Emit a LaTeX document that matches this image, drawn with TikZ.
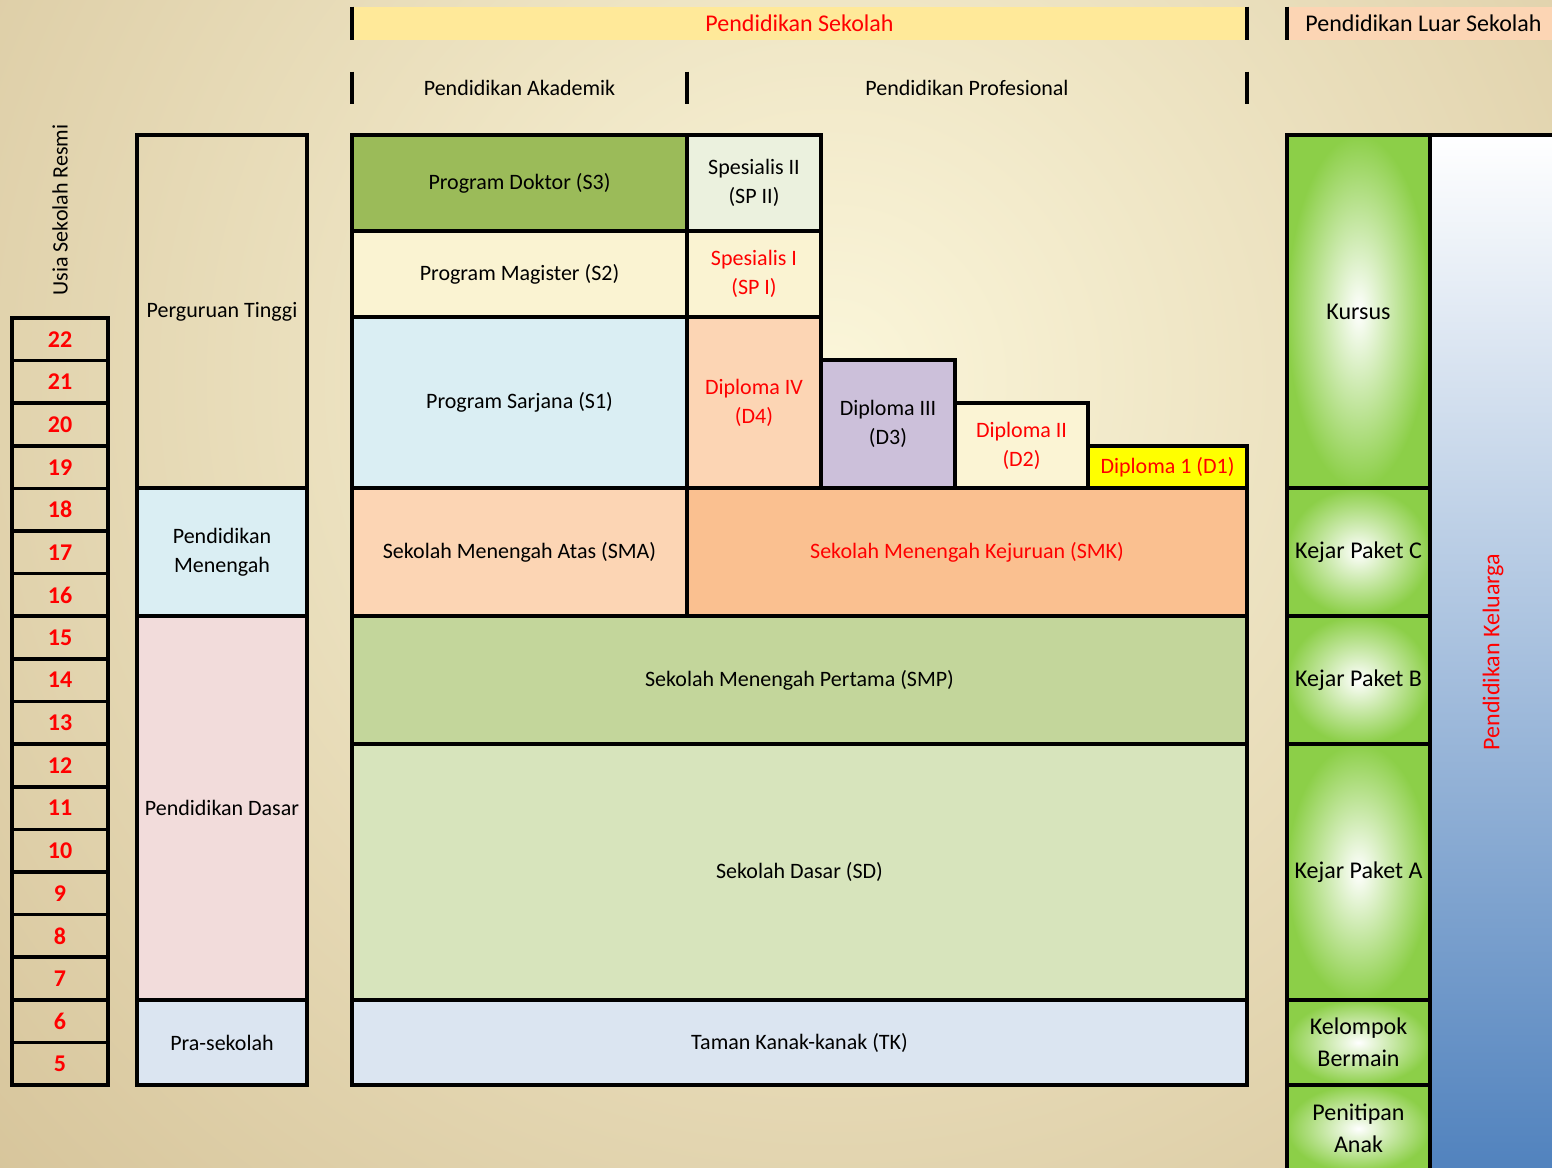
\documentclass[tikz,border=0pt]{standalone}
\usepackage{fontspec}
\setmainfont{Carlito}

\definecolor{bgtan}{HTML}{C9B283}
\definecolor{bgcream}{HTML}{FBF6DA}
\definecolor{hdryel}{HTML}{FFE999}
\definecolor{hdrpeach}{HTML}{FCD5B4}
\definecolor{doktor}{HTML}{9BBB59}
\definecolor{spesii}{HTML}{EBF1DE}
\definecolor{magister}{HTML}{FAF3D2}
\definecolor{sarjana}{HTML}{DAEEF3}
\definecolor{dfour}{HTML}{FCD5B4}
\definecolor{dthree}{HTML}{CCC0DA}
\definecolor{dtwo}{HTML}{FBF4D4}
\definecolor{done}{HTML}{FFFF00}
\definecolor{sma}{HTML}{FCD5B4}
\definecolor{smk}{HTML}{FAC090}
\definecolor{smp}{HTML}{C3D69B}
\definecolor{sd}{HTML}{D7E4BC}
\definecolor{tk}{HTML}{DBE5F1}
\definecolor{dasar}{HTML}{F2DCDB}
\definecolor{kgreen}{HTML}{8CCF48}
\definecolor{kelblue}{HTML}{4F81BD}

\newcommand\mainsz{\fontsize{11}{14.5}\selectfont}
\newcommand\hdrsz{\fontsize{12}{14}\selectfont}
\newcommand\grnsz{\fontsize{12}{16}\selectfont}
\newcommand\agesz{\fontsize{12}{13}\selectfont}

\begin{document}
\begin{tikzpicture}[x=0.5pt,y=-0.5pt,
    blk/.style={draw,line width=1.8pt,inner sep=0pt,align=center,font=\mainsz},
    agebox/.style={draw,line width=1.8pt,inner sep=0pt,text=red,font=\agesz\bfseries,
      minimum width=48pt,minimum height=21.3pt},
    grn/.style={blk,inner color=white,outer color=kgreen,font=\grnsz,minimum width=71.5pt},
    hdr/.style={inner sep=0pt,font=\hdrsz,minimum height=16.5pt},
    sub/.style={inner sep=0pt,font=\mainsz,minimum height=16pt},
    bar/.style={line width=2pt}]

  \useasboundingbox (0,0) rectangle (1552,1167);
  \clip (0,0) rectangle (1552,1167);

  % background
  \fill[bgtan] (0,0) rectangle (1552,1167);
  \shade[inner color=bgcream,outer color=bgtan] (830,380) circle (1600);

  % headers
  \node[hdr,fill=hdryel,text=red,minimum width=447.5pt] (sekolah) at (799.5,23.5) {Pendidikan Sekolah};
  \node[hdr,fill=hdrpeach,minimum width=136.5pt] (luar) at (1423.5,23.5) {Pendidikan Luar Sekolah};
  \draw[bar] (sekolah.north west) -- (sekolah.south west);
  \draw[bar] (sekolah.north east) -- (sekolah.south east);
  \draw[bar] (luar.north west) -- (luar.south west);

  \node[sub,minimum width=167.5pt] (akademik) at (519.5,88) {Pendidikan Akademik};
  \node[sub,minimum width=280pt] (profesional) at (967,88) {Pendidikan Profesional};
  \draw[bar] (akademik.north west) -- (akademik.south west);
  \draw[bar] (akademik.north east) -- (akademik.south east);
  \draw[bar] (profesional.north east) -- (profesional.south east);

  % ages
  \node[sub,rotate=90] (usia) at (60,210) {Usia Sekolah Resmi};
  \foreach \a [count=\i from 0] in {22,21,...,5}
    \node[agebox] (age\a) at (60,{318+(\i+0.5)*42.61}) {\a};

  % levels
  \node[blk,minimum width=85pt,minimum height=176.5pt] (tinggi) at (222,311.5) {Perguruan Tinggi};
  \node[blk,fill=sarjana,minimum width=85pt,minimum height=64pt] (menengah) at (222,552) {Pendidikan\\Menengah};
  \node[blk,fill=dasar,minimum width=85pt,minimum height=192pt] (dasar) at (222,808) {Pendidikan Dasar};
  \node[blk,fill=tk,minimum width=85pt,minimum height=42.5pt] (pra) at (222,1042.5) {Pra-sekolah};

  % school
  \node[blk,fill=doktor,minimum width=167.5pt,minimum height=48pt] (s3) at (519.5,183) {Program Doktor (S3)};
  \node[blk,fill=spesii,minimum width=67pt,minimum height=48pt] (sp2) at (754,183) {Spesialis II\\(SP II)};
  \node[blk,fill=magister,minimum width=167.5pt,minimum height=43pt] (s2) at (519.5,274) {Program Magister (S2)};
  \node[blk,fill=magister,text=red,minimum width=67pt,minimum height=43pt] (sp1) at (754,274) {Spesialis I\\(SP I)};
  \node[blk,fill=sarjana,minimum width=167.5pt,minimum height=85.5pt] (s1) at (519.5,402.5) {Program Sarjana (S1)};
  \node[blk,fill=dfour,text=red,minimum width=67pt,minimum height=85.5pt] (d4) at (754,402.5) {Diploma IV\\(D4)};
  \node[blk,fill=dthree,minimum width=67pt,minimum height=64pt] (d3) at (888,424) {Diploma III\\(D3)};
  \node[blk,fill=dtwo,text=red,minimum width=66.5pt,minimum height=42.5pt] (d2) at (1021.5,445.5) {Diploma II\\(D2)};
  \node[blk,fill=done,text=red,minimum width=79.5pt,minimum height=21pt] (d1) at (1167.5,467) {Diploma 1 (D1)};
  \node[blk,fill=sma,minimum width=167.5pt,minimum height=64pt] (sma) at (519.5,552) {Sekolah Menengah Atas (SMA)};
  \node[blk,fill=smk,text=red,minimum width=280pt,minimum height=64pt] (smk) at (967,552) {Sekolah Menengah Kejuruan (SMK)};
  \node[blk,fill=smp,minimum width=447.5pt,minimum height=64pt] (smp) at (799.5,680) {Sekolah Menengah Pertama (SMP)};
  \node[blk,fill=sd,minimum width=447.5pt,minimum height=128pt] (sd) at (799.5,872) {Sekolah Dasar (SD)};
  \node[blk,fill=tk,minimum width=447.5pt,minimum height=42.5pt] (tk) at (799.5,1042.5) {Taman Kanak-kanak (TK)};

  % out of school
  \node[blk,top color=white,bottom color=kelblue,minimum width=70pt,minimum height=522.5pt] (keluarga) at (1500,657.5) {};
  \node[hdr,text=red,rotate=90] (kellabel) at (1493,652) {Pendidikan Keluarga};
  \node[grn,minimum height=176.5pt] (kursus) at (1358.5,311.5) {Kursus};
  \node[grn,minimum height=64pt] (paketc) at (1358.5,552) {Kejar Paket C};
  \node[grn,minimum height=64pt] (paketb) at (1358.5,680) {Kejar Paket B};
  \node[grn,minimum height=128pt] (paketa) at (1358.5,872) {Kejar Paket A};
  \node[grn,minimum height=42.5pt] (bermain) at (1358.5,1042.5) {Kelompok\\Bermain};
  \node[grn,minimum height=43.5pt] (titip) at (1358.5,1128.5) {Penitipan\\Anak};

\end{tikzpicture}
\end{document}
